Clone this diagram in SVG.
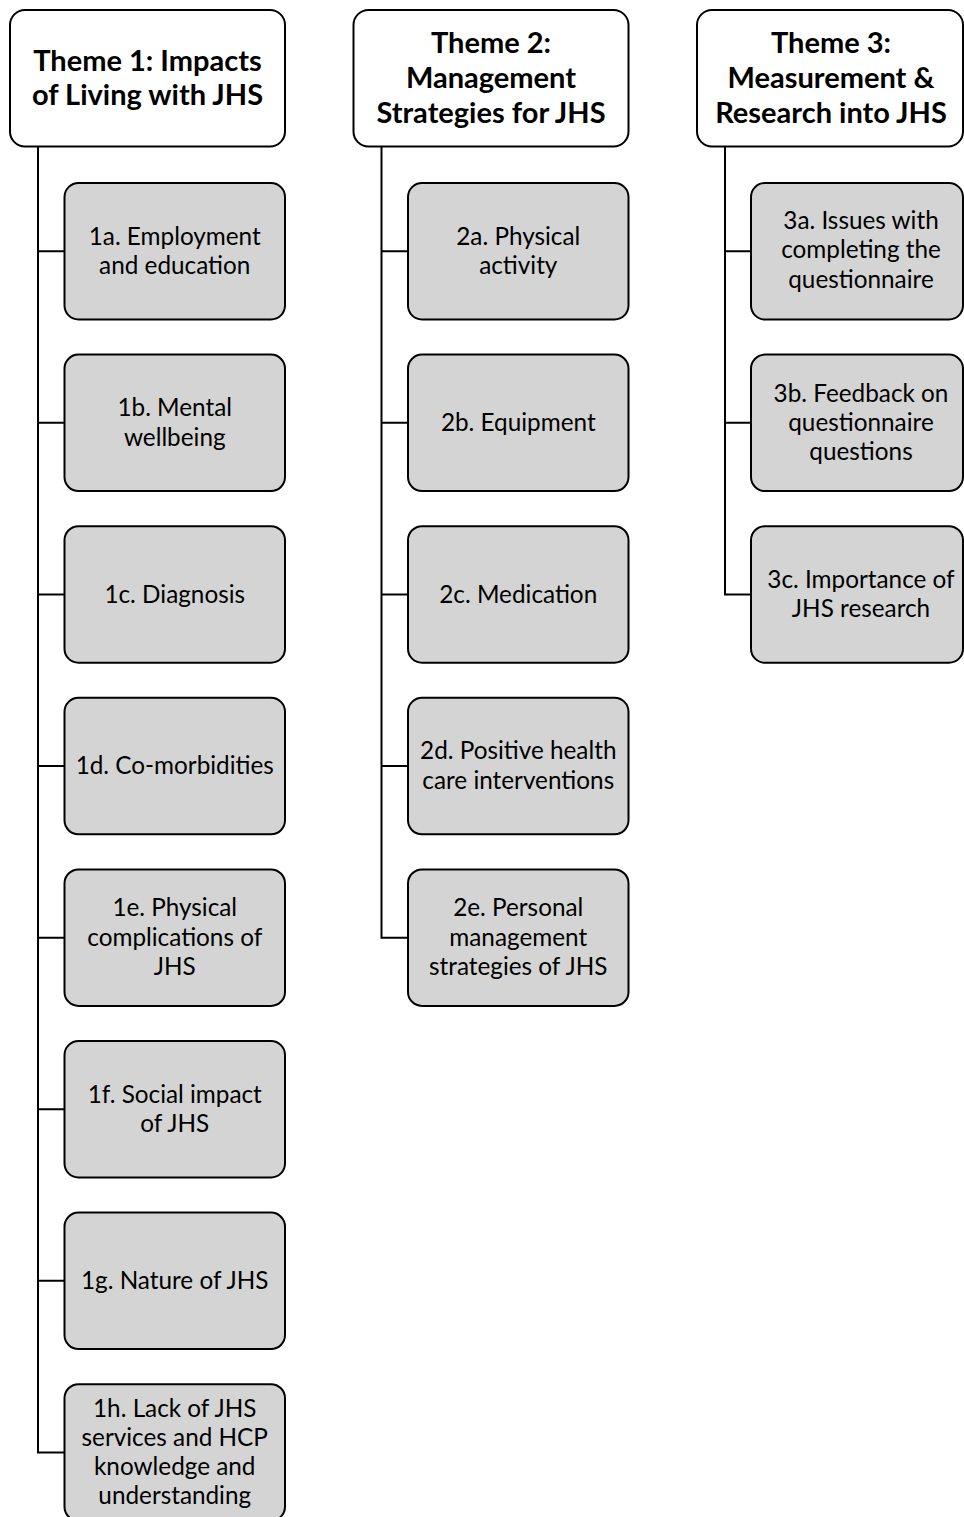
<svg xmlns="http://www.w3.org/2000/svg" width="964" height="1517" viewBox="0 0 964 1517">
<style>
.theme rect{fill:#ffffff;stroke:#000;stroke-width:2}
.sub rect{fill:#d4d4d4;stroke:#000;stroke-width:2}
.theme text{font-family:Lato,"Liberation Sans",sans-serif;font-weight:bold;font-size:29px;fill:#000;text-anchor:middle}
.sub text{font-family:Lato,"Liberation Sans",sans-serif;font-size:24.3px;fill:#000;text-anchor:middle}
.conn path{fill:none;stroke:#000;stroke-width:2}
</style>
<rect width="964" height="1517" fill="#ffffff"/>
<g class="conn" id="connectors">
<path d="M38,146.5 V1452.45 H64.5"/>
<path d="M38,251.25 H64.5 M38,422.85 H64.5 M38,594.45 H64.5 M38,766.05 H64.5 M38,937.65 H64.5 M38,1109.25 H64.5 M38,1280.85 H64.5"/>
<path d="M381.5,146.5 V937.65 H408"/>
<path d="M381.5,251.25 H408 M381.5,422.85 H408 M381.5,594.45 H408 M381.5,766.05 H408"/>
<path d="M725,146.5 V594.45 H751"/>
<path d="M725,251.25 H751 M725,422.85 H751"/>
</g>
<g class="theme" id="theme1"><rect x="10" y="10" width="275" height="136.5" rx="15"/><text x="147.5" y="71">Theme 1: Impacts</text><text x="147.5" y="105">of Living with JHS</text></g>
<g class="theme" id="theme2"><rect x="353.5" y="10" width="275" height="136.5" rx="15"/><text x="491" y="53">Theme 2:</text><text x="491" y="88">Management</text><text x="491" y="123">Strategies for JHS</text></g>
<g class="theme" id="theme3"><rect x="697" y="10" width="266" height="136.5" rx="15"/><text x="831" y="53">Theme 3:</text><text x="831" y="88">Measurement &amp;</text><text x="831" y="123">Research into JHS</text></g>

<g class="sub" id="n1a"><rect x="64.5" y="183" width="220.5" height="136.5" rx="14"/><text x="174.75" y="244.5">1a. Employment</text><text x="174.75" y="274">and education</text></g>
<g class="sub" id="n1b"><rect x="64.5" y="354.6" width="220.5" height="136.5" rx="14"/><text x="174.75" y="416.2">1b. Mental</text><text x="174.75" y="445.5">wellbeing</text></g>
<g class="sub" id="n1c"><rect x="64.5" y="526.2" width="220.5" height="136.5" rx="14"/><text x="174.75" y="602.5">1c. Diagnosis</text></g>
<g class="sub" id="n1d"><rect x="64.5" y="697.8" width="220.5" height="136.5" rx="14"/><text x="174.75" y="774">1d. Co-morbidities</text></g>
<g class="sub" id="n1e"><rect x="64.5" y="869.4" width="220.5" height="136.5" rx="14"/><text x="174.75" y="916.4">1e. Physical</text><text x="174.75" y="945.7">complications of</text><text x="174.75" y="975">JHS</text></g>
<g class="sub" id="n1f"><rect x="64.5" y="1041" width="220.5" height="136.5" rx="14"/><text x="174.75" y="1102.6">1f. Social impact</text><text x="174.75" y="1131.9">of JHS</text></g>
<g class="sub" id="n1g"><rect x="64.5" y="1212.6" width="220.5" height="136.5" rx="14"/><text x="174.75" y="1288.9">1g. Nature of JHS</text></g>
<g class="sub" id="n1h"><rect x="64.5" y="1384.2" width="220.5" height="136.5" rx="14"/><text x="174.75" y="1416.5">1h. Lack of JHS</text><text x="174.75" y="1445.8">services and HCP</text><text x="174.75" y="1475.1">knowledge and</text><text x="174.75" y="1504.4">understanding</text></g>

<g class="sub" id="n2a"><rect x="408" y="183" width="220.5" height="136.5" rx="14"/><text x="518.25" y="244.5">2a. Physical</text><text x="518.25" y="274">activity</text></g>
<g class="sub" id="n2b"><rect x="408" y="354.6" width="220.5" height="136.5" rx="14"/><text x="518.25" y="431">2b. Equipment</text></g>
<g class="sub" id="n2c"><rect x="408" y="526.2" width="220.5" height="136.5" rx="14"/><text x="518.25" y="602.5">2c. Medication</text></g>
<g class="sub" id="n2d"><rect x="408" y="697.8" width="220.5" height="136.5" rx="14"/><text x="518.25" y="759.4">2d. Positive health</text><text x="518.25" y="788.7">care interventions</text></g>
<g class="sub" id="n2e"><rect x="408" y="869.4" width="220.5" height="136.5" rx="14"/><text x="518.25" y="916.4">2e. Personal</text><text x="518.25" y="945.7">management</text><text x="518.25" y="975">strategies of JHS</text></g>

<g class="sub" id="n3a"><rect x="751" y="183" width="212" height="136.5" rx="14"/><text x="861" y="229">3a. Issues with</text><text x="861" y="258.3">completing the</text><text x="861" y="287.6">questionnaire</text></g>
<g class="sub" id="n3b"><rect x="751" y="354.6" width="212" height="136.5" rx="14"/><text x="861" y="401.6">3b. Feedback on</text><text x="861" y="430.9">questionnaire</text><text x="861" y="460.2">questions</text></g>
<g class="sub" id="n3c"><rect x="751" y="526.2" width="212" height="136.5" rx="14"/><text x="861" y="587.8">3c. Importance of</text><text x="861" y="617.1">JHS research</text></g>
</svg>
